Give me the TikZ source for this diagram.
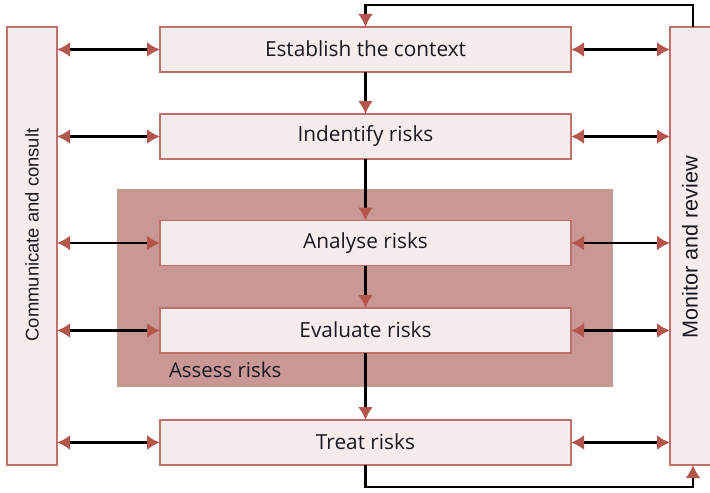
\documentclass[tikz,border=0pt]{standalone}
\usepackage{fontspec}
\setmainfont{Open Sans}
\newfontfamily\barfont{Liberation Sans}
\usetikzlibrary{arrows.meta}
\usetikzlibrary{calc,positioning}
\definecolor{boxline}{RGB}{192,112,106}
\definecolor{boxfill}{RGB}{245,236,235}
\definecolor{assessfill}{RGB}{201,151,148}
\definecolor{tipred}{RGB}{180,86,78}
\definecolor{textdark}{RGB}{25,25,35}
\def\totalwidth{710}
\def\totalheight{492}
\tikzstyle{step box}             = [draw=boxline,fill=boxfill,line width=0.75pt,
                                    minimum width=205.5pt,minimum height=22.5pt,
                                    inner sep=0pt,outer sep=0pt,text=textdark,
                                    font=\fontsize{10.4}{12}\selectfont]
\tikzstyle{side bar}             = [draw=boxline,fill=boxfill,line width=0.75pt,
                                    minimum height=219pt,inner sep=0pt,outer sep=0pt]
\tikzstyle{bar text}             = [text=textdark,font=\barfont\fontsize{9.2}{11}\selectfont]
\tikzset{flow/.style={line width=1.2pt,black,
                      -{Latex[color=tipred,length=6.5pt,width=7.5pt]}},
         talk/.style={line width=1.2pt,black,
                      {Latex[color=tipred,length=6.5pt,width=7.5pt]}-{Latex[color=tipred,length=6.5pt,width=7.5pt]}}
}

\begin{document}
\begin{tikzpicture}[x=0.5pt,y=-0.5pt]
        \clip (0,0) rectangle (\totalwidth,\totalheight);

        % Assess area
        \node[fill=assessfill,minimum width=248pt,minimum height=99pt,inner sep=0pt] (assess) at (365,288) {};
        \node[anchor=base west,text=textdark,font=\fontsize{10.2}{12}\selectfont] (assesslabel) at (162,377) {Assess risks};

        % Steps
        \node[step box] (establish) at (365.5,49.5)  {\raisebox{1pt}{Establish the context}};
        \node[step box] (identify)  at (365.5,136.5) {\raisebox{1pt}{Indentify risks}};
        \node[step box] (analyse)   at (365.5,243)   {\raisebox{1pt}{Analyse risks}};
        \node[step box] (evaluate)  at (365.5,330.5) {\raisebox{1pt}{Evaluate risks}};
        \node[step box] (treat)     at (365.5,442.5) {\raisebox{1pt}{Treat risks}};

        % Side bars
        \node[side bar,minimum width=25pt] (consult) at (32,246) {};
        \node[bar text,rotate=90] at ($(consult.center)+(0,-11)$) {Communicate and consult};
        \node[side bar,minimum width=23pt] (monitor) at (693,246) {};
        \node[bar text,rotate=90,font=\barfont\fontsize{10.8}{12}\selectfont] at ($(monitor.center)+(-3,1)$) {Monitor and review};

        % Flow
        \draw[flow] (establish) -- (identify);
        \draw[flow] (identify)  -- (analyse);
        \draw[flow] (analyse)   -- (evaluate);
        \draw[flow] (evaluate)  -- (treat);
        \draw[flow] (monitor.north) -- ++(0,-22) -| (establish.north);
        \draw[flow] (treat.south)   -- ++(0,22)  -| (monitor.south);

        % Communication
        \foreach \s in {establish,identify,analyse,evaluate,treat}{
            \draw[talk] (consult.east |- \s.west) -- (\s.west);
            \draw[talk] (\s.east) -- (monitor.west |- \s.east);
        }
    \end{tikzpicture}
\end{document}
